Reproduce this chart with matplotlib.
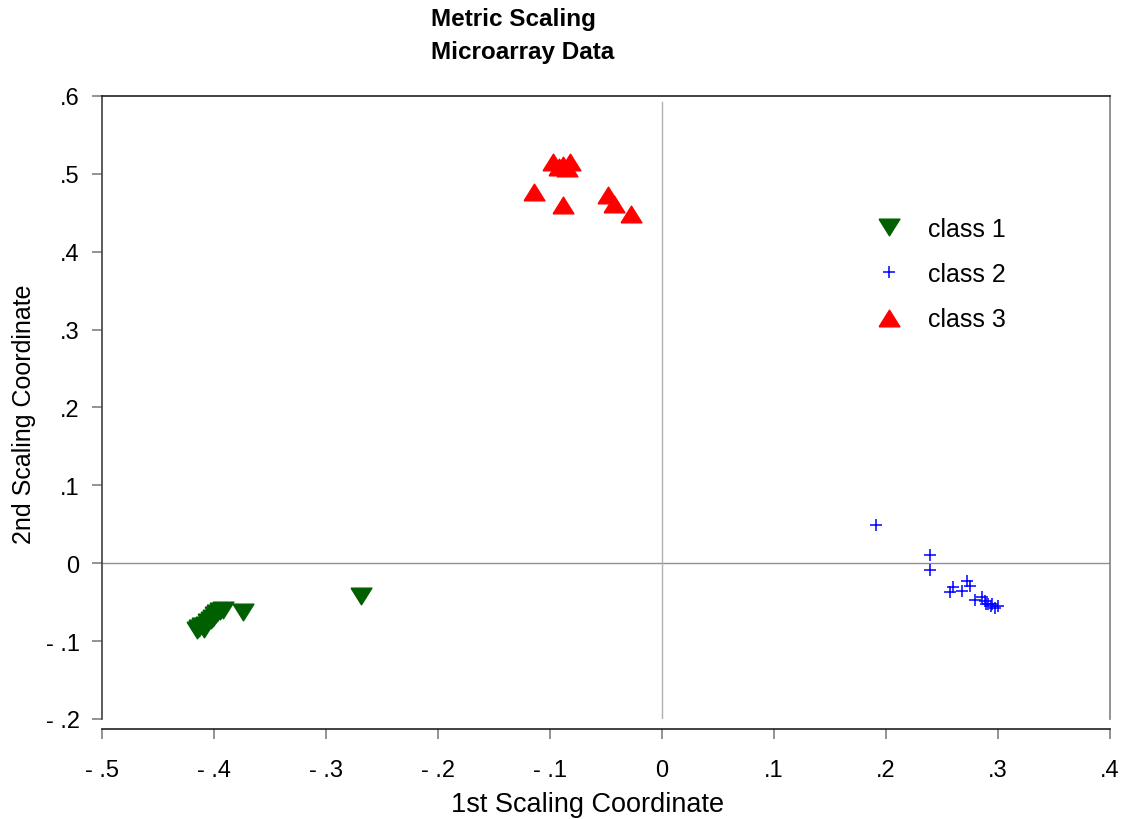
#______importing libraries__________
import matplotlib
matplotlib.use("Agg")
import matplotlib.pyplot as plt

plt.rcParams["font.family"] = ["Liberation Sans", "DejaVu Sans"]

#______scaling coordinates_______________________________
class1_x = [-0.415, -0.413, -0.411, -0.409, -0.407, -0.405, -0.403, -0.401,
            -0.399, -0.397, -0.395, -0.392, -0.374, -0.269]
class1_y = [-0.086, -0.083, -0.080, -0.084, -0.079, -0.076, -0.073, -0.070,
            -0.067, -0.064, -0.061, -0.060, -0.063, -0.042]

class2_x = [0.191, 0.239, 0.239, 0.260, 0.2575, 0.268, 0.272, 0.275, 0.279,
            0.286, 0.288, 0.289, 0.291, 0.294, 0.295, 0.297, 0.300]
class2_y = [0.049, 0.011, -0.009, -0.030, -0.037, -0.036, -0.023, -0.029,
            -0.0475, -0.044, -0.049, -0.0526, -0.0526, -0.055, -0.052, -0.057, -0.055]

class3_x = [-0.097, -0.092, -0.088, -0.085, -0.082, -0.114, -0.088, -0.048, -0.043, -0.028]
class3_y = [0.515, 0.509, 0.511, 0.508, 0.515, 0.4766, 0.4596, 0.473, 0.461, 0.449]

x_ticks = [-0.5, -0.4, -0.3, -0.2, -0.1, 0, 0.1, 0.2, 0.3, 0.4]
x_tick_labels = ["- .5", "- .4", "- .3", "- .2", "- .1", "0", ".1", ".2", ".3", ".4"]
y_ticks = [-0.2, -0.1, 0, 0.1, 0.2, 0.3, 0.4, 0.5, 0.6]
y_tick_labels = ["- .2", "- .1", "0", ".1", ".2", ".3", ".4", ".5", ".6"]

#______wide triangles like the original plotting package__________
tri_down = [(-1, 0.8), (1, 0.8), (0, -0.8), (-1, 0.8)]
tri_up = [(-1, -0.8), (1, -0.8), (0, 0.8), (-1, -0.8)]

fig = plt.figure(figsize=(11.29, 8.2), dpi=100)
ax = fig.add_axes([0.0903, 0.1220, 0.8929, 0.7598])

# reference lines through the origin
ax.axhline(0, color="#909090", lw=1.0, zorder=0)
ax.axvline(0, ymax=0.99, color="#b0b0b0", lw=1.0, zorder=0)

ax.plot(class1_x, class1_y, ls="none", marker=tri_down, ms=15,
        color="#006000", mec="#006000", label="class 1")
ax.plot(class2_x, class2_y, ls="none", marker="+", ms=9, mew=1.1,
        color="#0000ff", label="class 2")
ax.plot(class3_x, class3_y, ls="none", marker=tri_up, ms=15,
        color="#ff0000", mec="#ff0000", label="class 3")

ax.set_xlim(-0.5, 0.4)
ax.set_ylim(-0.2, 0.6)
ax.set_xticks(x_ticks)
ax.set_xticklabels(x_tick_labels)
ax.set_yticks(y_ticks)
ax.set_yticklabels(y_tick_labels)
ax.tick_params(axis="both", labelsize=17, length=7, width=1.2, color="#808080")
ax.tick_params(axis="x", pad=15)
ax.tick_params(axis="y", pad=9)

#______spines: bottom axis pushed down a little__________
ax.spines["bottom"].set_position(("outward", 7))
ax.spines["bottom"].set_color("#202020")
ax.spines["top"].set_color("#202020")
ax.spines["left"].set_color("#404040")
ax.spines["right"].set_color("#808080")
for s in ax.spines.values():
    s.set_linewidth(1.2)

ax.set_xlabel("1st Scaling Coordinate", fontsize=19.5, labelpad=7, x=0.4816)
ax.set_ylabel("2nd Scaling Coordinate", fontsize=18, labelpad=7, y=0.49)

fig.text(0.3817, 0.990, "Metric Scaling\nMicroarray Data", fontsize=17.5,
         fontweight="bold", ha="left", va="top", linespacing=1.55)

ax.legend(loc="upper left", bbox_to_anchor=(0.746, 0.822), frameon=False,
          fontsize=18, handletextpad=0.55, labelspacing=0.85, borderaxespad=0)

fig.savefig("out.png", dpi=100)
